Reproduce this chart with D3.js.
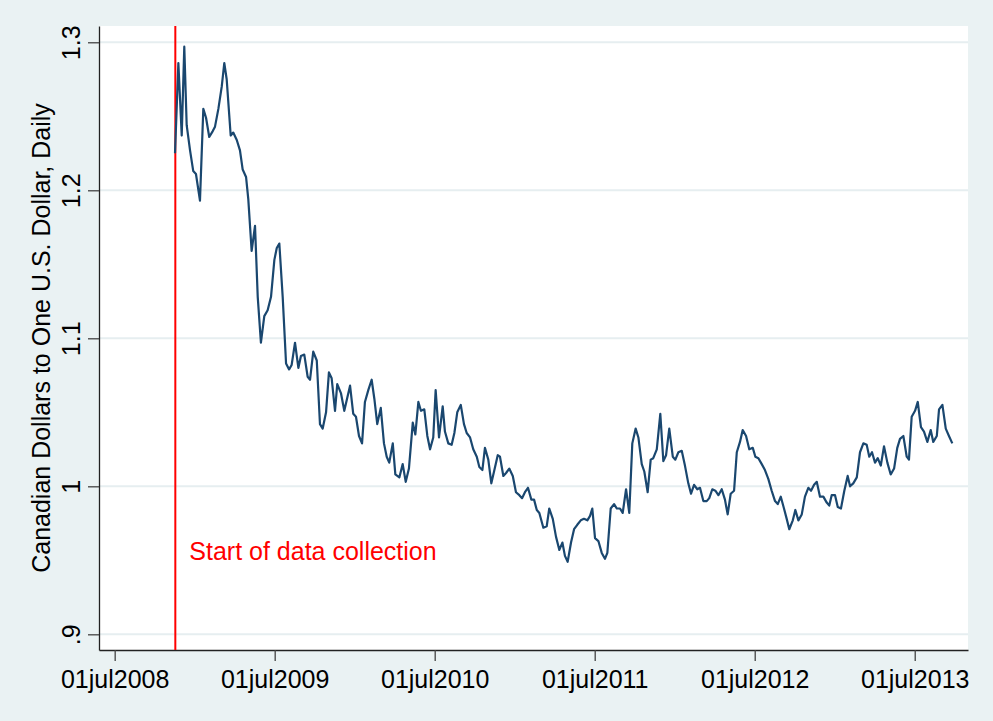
<!DOCTYPE html>
<html>
<head>
<meta charset="utf-8">
<script src="https://cdn.jsdelivr.net/npm/d3@7"></script>
<style>
  html, body { margin: 0; padding: 0; background: #eaf2f3; }
  svg { display: block; }
</style>
</head>
<body>
<div id="chart"></div>
<script>
// Weekly CAD per USD. x as decimal years.
var weekYear = [
  2008.877, 2008.898, 2008.919, 2008.935, 2008.950, 2008.971, 2008.991, 2009.008, 2009.033, 2009.054,
  2009.071, 2009.091, 2009.113, 2009.127, 2009.148, 2009.169, 2009.185, 2009.200, 2009.225, 2009.241,
  2009.263, 2009.283, 2009.300, 2009.321, 2009.335, 2009.356, 2009.377, 2009.394, 2009.414, 2009.435,
  2009.456, 2009.477, 2009.498, 2009.513, 2009.529, 2009.550, 2009.571, 2009.590, 2009.606, 2009.627,
  2009.648, 2009.664, 2009.685, 2009.706, 2009.721, 2009.741, 2009.763, 2009.783, 2009.800, 2009.821,
  2009.839, 2009.856, 2009.877, 2009.891, 2009.914, 2009.935, 2009.954, 2009.971, 2009.991, 2010.008,
  2010.027, 2010.046, 2010.064, 2010.085, 2010.106, 2010.123, 2010.141, 2010.163, 2010.183, 2010.200,
  2010.216, 2010.238, 2010.254, 2010.279, 2010.300, 2010.319, 2010.339, 2010.363, 2010.379, 2010.398,
  2010.414, 2010.435, 2010.454, 2010.471, 2010.491, 2010.506, 2010.527, 2010.550, 2010.564, 2010.585,
  2010.606, 2010.623, 2010.641, 2010.663, 2010.683, 2010.700, 2010.721, 2010.741, 2010.763, 2010.779,
  2010.798, 2010.814, 2010.835, 2010.854, 2010.873, 2010.894, 2010.908, 2010.929, 2010.946, 2010.966,
  2010.988, 2011.008, 2011.029, 2011.046, 2011.064, 2011.083, 2011.104, 2011.121, 2011.138, 2011.154,
  2011.179, 2011.200, 2011.216, 2011.238, 2011.258, 2011.279, 2011.298, 2011.314, 2011.331, 2011.352,
  2011.371, 2011.391, 2011.413, 2011.433, 2011.454, 2011.471, 2011.485, 2011.502, 2011.523, 2011.544,
  2011.564, 2011.579, 2011.600, 2011.621, 2011.638, 2011.658, 2011.675, 2011.696, 2011.716, 2011.735,
  2011.756, 2011.773, 2011.794, 2011.810, 2011.831, 2011.850, 2011.866, 2011.888, 2011.910, 2011.929,
  2011.946, 2011.966, 2011.988, 2012.004, 2012.023, 2012.044, 2012.064, 2012.085, 2012.102, 2012.121,
  2012.141, 2012.158, 2012.179, 2012.200, 2012.216, 2012.235, 2012.254, 2012.273, 2012.294, 2012.314,
  2012.331, 2012.350, 2012.371, 2012.388, 2012.408, 2012.425, 2012.446, 2012.466, 2012.488, 2012.504,
  2012.523, 2012.544, 2012.564, 2012.585, 2012.606, 2012.627, 2012.644, 2012.663, 2012.683, 2012.700,
  2012.716, 2012.738, 2012.754, 2012.773, 2012.794, 2012.814, 2012.835, 2012.852, 2012.871, 2012.888,
  2012.908, 2012.929, 2012.950, 2012.966, 2012.981, 2013.002, 2013.019, 2013.039, 2013.060, 2013.081,
  2013.096, 2013.116, 2013.138, 2013.158, 2013.179, 2013.200, 2013.216, 2013.233, 2013.252, 2013.269,
  2013.288, 2013.308, 2013.329, 2013.350, 2013.371, 2013.391, 2013.408, 2013.429, 2013.450, 2013.464,
  2013.481, 2013.502, 2013.519, 2013.539, 2013.558, 2013.579, 2013.600, 2013.616, 2013.638, 2013.652,
  2013.673, 2013.694, 2013.714, 2013.735
];
var cadPerUsd = [
  1.225, 1.286, 1.237, 1.297, 1.244, 1.227, 1.213, 1.211, 1.193, 1.255,
  1.249, 1.236, 1.240, 1.243, 1.255, 1.270, 1.286, 1.275, 1.237, 1.239,
  1.234, 1.227, 1.214, 1.209, 1.194, 1.159, 1.176, 1.128, 1.097, 1.115,
  1.119, 1.128, 1.153, 1.161, 1.164, 1.128, 1.083, 1.079, 1.082, 1.097,
  1.080, 1.088, 1.089, 1.074, 1.072, 1.091, 1.085, 1.042, 1.039, 1.050,
  1.077, 1.073, 1.051, 1.069, 1.063, 1.051, 1.060, 1.068, 1.049, 1.047,
  1.034, 1.029, 1.057, 1.065, 1.072, 1.059, 1.042, 1.053, 1.029, 1.020,
  1.016, 1.029, 1.008, 1.006, 1.015, 1.003, 1.012, 1.043, 1.035, 1.057,
  1.051, 1.052, 1.034, 1.025, 1.033, 1.065, 1.033, 1.054, 1.037, 1.029,
  1.028, 1.036, 1.050, 1.055, 1.042, 1.036, 1.033, 1.025, 1.020, 1.013,
  1.011, 1.026, 1.018, 1.002, 1.011, 1.021, 1.020, 1.007, 1.009, 1.012,
  1.007, 0.996, 0.994, 0.992, 0.996, 0.999, 0.991, 0.991, 0.984, 0.982,
  0.972, 0.973, 0.985, 0.978, 0.966, 0.957, 0.962, 0.953, 0.949, 0.962,
  0.971, 0.974, 0.977, 0.978, 0.977, 0.980, 0.985, 0.965, 0.963, 0.955,
  0.951, 0.955, 0.985, 0.988, 0.985, 0.985, 0.982, 0.998, 0.982, 1.029,
  1.039, 1.033, 1.015, 1.010, 0.996, 1.018, 1.019, 1.025, 1.049, 1.017,
  1.021, 1.039, 1.020, 1.018, 1.023, 1.024, 1.014, 1.002, 0.995, 1.001,
  0.998, 0.999, 0.990, 0.990, 0.992, 0.998, 0.997, 0.994, 0.998, 0.991,
  0.981, 0.995, 0.997, 1.023, 1.030, 1.038, 1.034, 1.025, 1.026, 1.020,
  1.019, 1.015, 1.011, 1.005, 0.997, 0.990, 0.988, 0.993, 0.985, 0.978,
  0.971, 0.977, 0.984, 0.977, 0.981, 0.993, 0.999, 0.997, 1.001, 1.003,
  0.993, 0.993, 0.989, 0.987, 0.994, 0.994, 0.986, 0.985, 0.997, 1.007,
  1.000, 1.002, 1.006, 1.023, 1.029, 1.028, 1.020, 1.023, 1.016, 1.019,
  1.014, 1.027, 1.016, 1.008, 1.012, 1.026, 1.032, 1.034, 1.020, 1.018,
  1.047, 1.051, 1.057, 1.040, 1.037, 1.030, 1.038, 1.030, 1.034, 1.052,
  1.055, 1.039, 1.034, 1.029
];

var yTicks = [0.9, 1, 1.1, 1.2, 1.3];
var yTickLabels = ['.9', '1', '1.1', '1.2', '1.3'];
var xTicks = [2008.5, 2009.5, 2010.5, 2011.5, 2012.5, 2013.5];
var xTickLabels = ['01jul2008', '01jul2009', '01jul2010', '01jul2011', '01jul2012', '01jul2013'];
var startYear = 2008.879;
var startLabel = 'Start of data collection';
var yTitle = 'Canadian Dollars to One U.S. Dollar, Daily';

(function () {
    var W = 993, H = 721;
    var pl = 99, pr = 968, pt = 26, pb = 650;
    var FONT = '"Liberation Sans", Arial, sans-serif';

    var svg = d3.select('#chart').append('svg')
        .attr('width', W).attr('height', H)
        .style('font-family', FONT);

    svg.append('rect').attr('width', W).attr('height', H).attr('fill', '#eaf2f3');
    svg.append('rect').attr('x', pl).attr('y', pt)
        .attr('width', pr - pl).attr('height', pb - pt)
        .attr('fill', '#fff');

    var x = d3.scaleLinear().domain([2008.402, 2013.833]).range([pl, pr]);
    var y = d3.scaleLinear().domain([0.8894, 1.3110]).range([pb, pt]);

    // grid
    svg.append('g').selectAll('line').data(yTicks).enter().append('line')
        .attr('x1', pl).attr('x2', pr)
        .attr('y1', function (d) { return y(d); }).attr('y2', function (d) { return y(d); })
        .attr('stroke', '#e6eef0').attr('stroke-width', 2);

    // axes
    var yAxis = svg.append('g').attr('transform', 'translate(' + pl + ',0)')
        .call(d3.axisLeft(y).tickValues(yTicks).tickSize(11).tickSizeOuter(0)
            .tickFormat(function (d, i) { return yTickLabels[i]; }));
    yAxis.selectAll('text')
        .attr('transform', 'rotate(-90)')
        .attr('x', 0).attr('y', -19).attr('dy', 0)
        .attr('text-anchor', 'middle');

    var xAxis = svg.append('g').attr('transform', 'translate(0,' + pb + ')')
        .call(d3.axisBottom(x).tickValues(xTicks).tickSize(11).tickSizeOuter(0)
            .tickFormat(function (d, i) { return xTickLabels[i]; }));
    xAxis.selectAll('text').attr('y', 38).attr('dy', 0);

    [yAxis, xAxis].forEach(function (g) {
        g.select('.domain').attr('stroke', '#222').attr('stroke-width', 1.3);
        g.selectAll('.tick line').attr('stroke', '#444').attr('stroke-width', 1.3);
        g.selectAll('text').attr('font-size', 25).attr('fill', '#000')
            .style('font-family', FONT);
    });

    // y title
    svg.append('text')
        .attr('transform', 'translate(50,' + ((pt + pb) / 2) + ') rotate(-90)')
        .attr('text-anchor', 'middle').attr('font-size', 25).attr('fill', '#000')
        .text(yTitle);

    // start-of-collection marker
    svg.append('line')
        .attr('x1', x(startYear)).attr('x2', x(startYear))
        .attr('y1', pt).attr('y2', pb)
        .attr('stroke', '#ff0000').attr('stroke-width', 2);
    svg.append('text')
        .attr('x', x(startYear) + 14).attr('y', 560)
        .attr('font-size', 25).attr('fill', '#ff0000')
        .text(startLabel);

    // exchange rate line
    var line = d3.line()
        .x(function (d, i) { return x(weekYear[i]); })
        .y(function (d) { return y(d); });
    svg.append('path').datum(cadPerUsd)
        .attr('d', line)
        .attr('fill', 'none').attr('stroke', '#1a476f')
        .attr('stroke-width', 2.2).attr('stroke-linejoin', 'round');
})();
</script>
</body>
</html>
